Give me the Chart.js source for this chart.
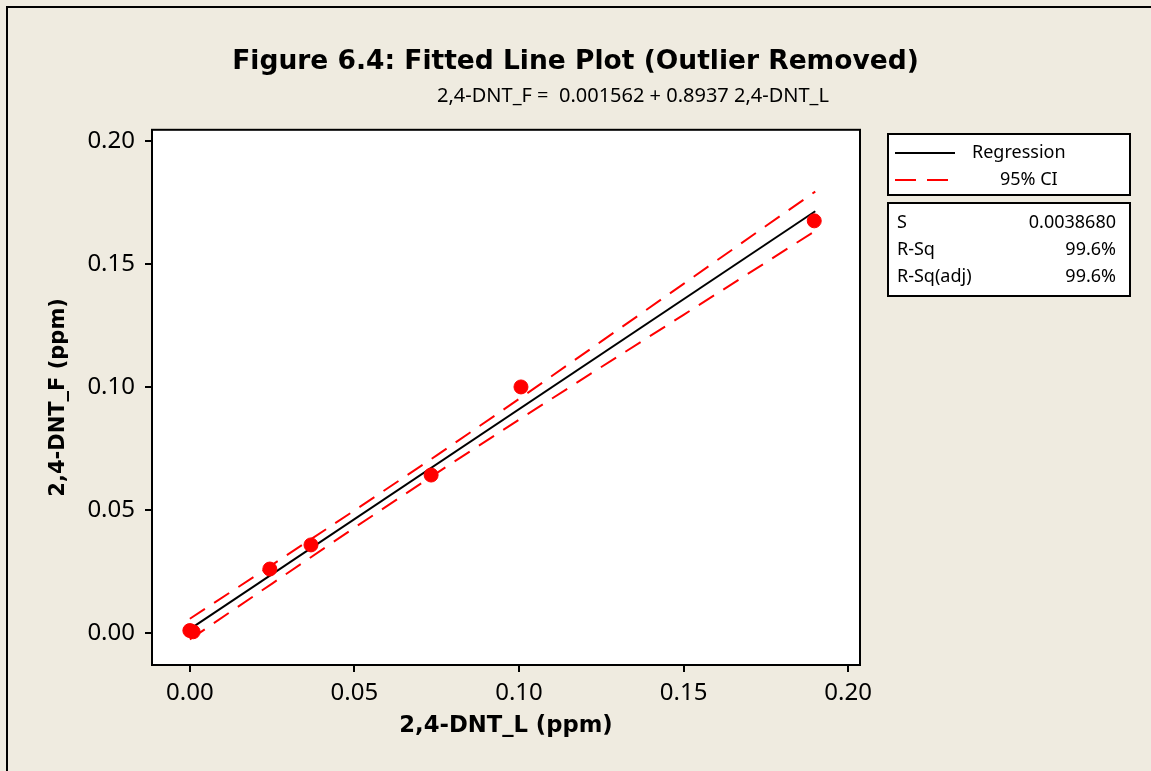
<!DOCTYPE html>
<html>
<head>
<meta charset="utf-8">
<script src="https://cdn.jsdelivr.net/npm/chart.js@4.4.1/dist/chart.umd.min.js"></script>
<style>
  html, body { margin: 0; padding: 0; background: #EFEBE0; }
  #wrap { width: 1151px; height: 771px; }
</style>
</head>
<body>
<div id="wrap"><canvas id="fitChart" width="1151" height="771"></canvas></div>
<script>
// observed points (ppm)
var obsX = [0.0000, 0.0010, 0.0243, 0.0368, 0.0733, 0.1006, 0.1897];
var obsY = [0.0010, 0.0005, 0.0260, 0.0358, 0.0642, 0.1000, 0.1675];

// fitted line ends, 2,4-DNT_F = 0.001562 + 0.8937 2,4-DNT_L
var fitX = [0.0000, 0.1900];
var fitY = [0.0016, 0.1714];

// 95% CI band
var ciX     = [0.000, 0.025, 0.050, 0.075, 0.100, 0.125, 0.150, 0.175, 0.190];
var ciUpper = [0.0058, 0.0277, 0.0498, 0.0722, 0.0951, 0.1185, 0.1419, 0.1654, 0.1794];
var ciLower = [-0.0026, 0.0201, 0.0428, 0.0650, 0.0867, 0.1081, 0.1293, 0.1506, 0.1634];

var statNames  = ['S', 'R-Sq', 'R-Sq(adj)'];
var statValues = ['0.0038680', '99.6%', '99.6%'];

var subtitleText = '2,4-DNT_F =  0.001562 + 0.8937 2,4-DNT_L';

var FONT = "'Noto Sans', 'DejaVu Sans', sans-serif";
var BOLD = "'DejaVu Sans', 'Noto Sans', sans-serif";

function toPoints(xs, ys) {
    var out = [];
    for (var i = 0; i < xs.length; i++) out.push({x: xs[i], y: ys[i]});
    return out;
}

var frame = {
    id: 'frame',
    beforeDraw: function (chart) {
        var ctx = chart.ctx, a = chart.chartArea;
        ctx.save();
        ctx.fillStyle = '#EFEBE0';
        ctx.fillRect(0, 0, chart.width, chart.height);
        ctx.fillStyle = '#000';
        ctx.fillRect(6, 6, chart.width - 6, 2);
        ctx.fillRect(6, 6, 2, chart.height - 6);
        ctx.fillStyle = '#fff';
        ctx.fillRect(a.left, a.top, a.right - a.left, a.bottom - a.top);
        ctx.restore();
    },
    beforeDatasetsDraw: function (chart) {
        var ctx = chart.ctx, a = chart.chartArea;
        ctx.save();
        ctx.strokeStyle = '#000';
        ctx.lineWidth = 2;
        ctx.strokeRect(a.left, a.top, a.right - a.left, a.bottom - a.top);
        ctx.restore();
    }
};

// minitab style legend + stats boxes, and the equation line
var sideBoxes = {
    id: 'sideBoxes',
    afterDraw: function (chart) {
        var ctx = chart.ctx;
        var bx = chart.chartArea.right + 28, bw = 242;
        ctx.save();

        ctx.fillStyle = '#000';
        ctx.font = '20px ' + FONT;
        ctx.textBaseline = 'middle';
        ctx.textAlign = 'center';
        ctx.fillText(subtitleText, 633, 96);

        ctx.lineWidth = 2;
        ctx.strokeStyle = '#000';
        ctx.fillStyle = '#fff';
        ctx.fillRect(bx, 134, bw, 61);
        ctx.strokeRect(bx, 134, bw, 61);
        ctx.fillRect(bx, 203, bw, 93);
        ctx.strokeRect(bx, 203, bw, 93);

        ctx.beginPath();
        ctx.moveTo(bx + 7, 153); ctx.lineTo(bx + 67, 153);
        ctx.stroke();
        ctx.strokeStyle = '#f00';
        ctx.setLineDash([21, 11]);
        ctx.beginPath();
        ctx.moveTo(bx + 7, 180); ctx.lineTo(bx + 67, 180);
        ctx.stroke();
        ctx.setLineDash([]);

        ctx.fillStyle = '#000';
        ctx.font = '18px ' + FONT;
        ctx.textAlign = 'left';
        ctx.fillText('Regression', bx + 84, 153);
        ctx.fillText('95% CI', bx + 112, 180);

        for (var i = 0; i < statNames.length; i++) {
            var ry = 223 + i * 27;
            ctx.textAlign = 'left';
            ctx.fillText(statNames[i], bx + 9, ry);
            ctx.textAlign = 'right';
            ctx.fillText(statValues[i], bx + 228, ry);
        }
        ctx.restore();
    }
};

var canvas = document.getElementById('fitChart').getContext('2d');
var fitChart = new Chart(canvas, {
    type: 'scatter',
    data: {
        datasets: [{
            label: 'Observed',
            data: toPoints(obsX, obsY),
            backgroundColor: '#ff0000',
            borderColor: '#ff0000',
            pointRadius: 7,
            pointHoverRadius: 7
        }, {
            label: 'Regression',
            data: toPoints(fitX, fitY),
            showLine: true,
            borderColor: '#000',
            borderWidth: 2,
            pointRadius: 0
        }, {
            label: '95% CI',
            data: toPoints(ciX, ciUpper),
            showLine: true,
            borderColor: '#ff0000',
            borderWidth: 2,
            borderDash: [18, 11],
            pointRadius: 0
        }, {
            label: '95% CI lower',
            data: toPoints(ciX, ciLower),
            showLine: true,
            borderColor: '#ff0000',
            borderWidth: 2,
            borderDash: [18, 11],
            pointRadius: 0
        }]
    },
    options: {
        responsive: false,
        animation: false,
        devicePixelRatio: 1,
        layout: { padding: 0 },
        plugins: {
            legend: { display: false },
            tooltip: { enabled: false },
            title: {
                display: true,
                text: 'Figure 6.4: Fitted Line Plot (Outlier Removed)',
                color: '#000',
                font: { family: BOLD, size: 26.5, weight: 'bold', lineHeight: 1.2 },
                padding: { top: 46, bottom: 52 }
            }
        },
        scales: {
            x: {
                type: 'linear',
                min: -0.0115,
                max: 0.2036,
                afterFit: function (s) { s.height = 106; },
                grid: { drawOnChartArea: false, drawTicks: true, tickLength: 7, color: '#000', lineWidth: 2 },
                border: { display: false },
                ticks: {
                    stepSize: 0.05,
                    includeBounds: false,
                    padding: 7,
                    color: '#000',
                    font: { family: FONT, size: 24 },
                    maxRotation: 0,
                    callback: function (v) { return v.toFixed(2); }
                },
                title: {
                    display: true,
                    text: '2,4-DNT_L (ppm)',
                    color: '#000',
                    font: { family: BOLD, size: 22.7, weight: 'bold', lineHeight: 1.2 },
                    padding: { top: 0, bottom: 31 }
                }
            },
            y: {
                type: 'linear',
                min: -0.013,
                max: 0.2045,
                afterFit: function (s) { s.width = 152; },
                grid: { drawOnChartArea: false, drawTicks: true, tickLength: 7, color: '#000', lineWidth: 2 },
                border: { display: false },
                ticks: {
                    stepSize: 0.05,
                    includeBounds: false,
                    padding: 10,
                    color: '#000',
                    font: { family: FONT, size: 24 },
                    callback: function (v) { return v.toFixed(2); }
                },
                title: {
                    display: true,
                    text: '2,4-DNT_F (ppm)',
                    color: '#000',
                    font: { family: BOLD, size: 21, weight: 'bold', lineHeight: 1.2 },
                    padding: { top: 46, bottom: 0 }
                }
            },
            side: {
                type: 'linear',
                position: 'right',
                afterFit: function (s) { s.width = 291; },
                grid: { display: false },
                border: { display: false },
                ticks: { display: false }
            }
        }
    },
    plugins: [frame, sideBoxes]
});
</script>
</body>
</html>
